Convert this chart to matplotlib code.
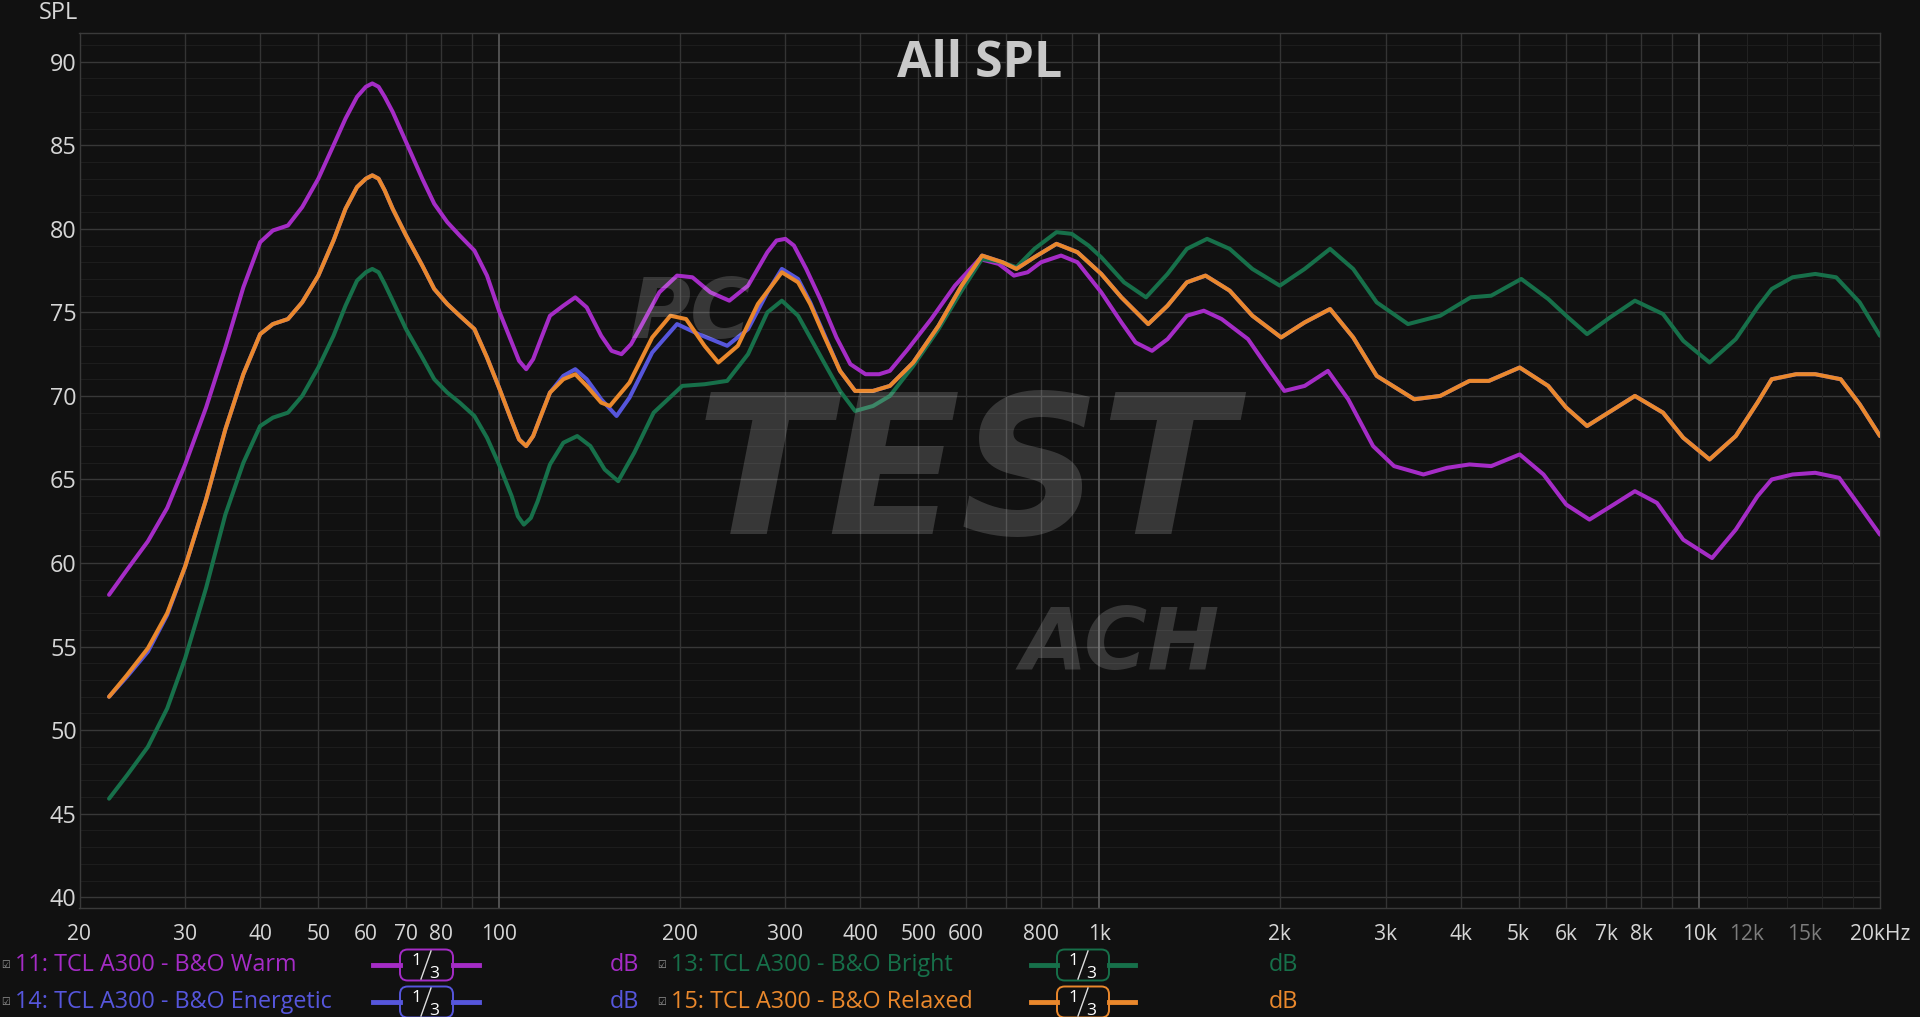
import matplotlib
matplotlib.use('Agg')
import matplotlib.pyplot as plt
from matplotlib import font_manager
from matplotlib.patches import FancyBboxPatch
from matplotlib.lines import Line2D
from matplotlib.ticker import NullLocator

# ---- data ----
warm_freq = [22.4, 24, 26, 28, 30, 32.5, 35, 37.5, 40, 42, 44.5, 47, 50, 53, 55.5, 58, 60, 61.5, 63,
             64.5, 66.5, 70, 74.5, 78, 82, 86, 91, 95.5, 100, 105, 108, 111, 114, 118, 121.6, 128,
             134, 140, 148, 154, 160, 166, 172, 185, 198, 210, 225, 242, 260, 280, 290, 300, 310,
             325, 343, 365, 385, 408, 430, 448, 480, 525, 575, 632, 680, 721, 760, 800, 864, 920,
             1008, 1089, 1150, 1225, 1300, 1400, 1494, 1600, 1770, 1900, 2035, 2200, 2405, 2600,
             2860, 3100, 3470, 3800, 4140, 4500, 5020, 5500, 6000, 6560, 7200, 7810, 8500, 9400,
             10500, 11500, 12500, 13200, 14300, 15600, 17100, 18500, 20000]
warm_db = [58.1, 59.6, 61.3, 63.3, 65.9, 69.3, 72.9, 76.5, 79.2, 79.9, 80.2, 81.3, 83.0, 85.0, 86.6,
           87.9, 88.5, 88.7, 88.5, 87.9, 87.0, 85.2, 83.0, 81.5, 80.4, 79.6, 78.7, 77.2, 75.1, 73.2,
           72.1, 71.6, 72.2, 73.6, 74.8, 75.4, 75.9, 75.3, 73.6, 72.7, 72.5, 73.1, 74.1, 76.2, 77.2,
           77.1, 76.2, 75.7, 76.6, 78.6, 79.3, 79.4, 79.0, 77.6, 75.8, 73.5, 71.9, 71.3, 71.3, 71.5,
           72.8, 74.6, 76.6, 78.2, 77.9, 77.2, 77.4, 78.0, 78.4, 78.0, 76.2, 74.4, 73.2, 72.7, 73.4,
           74.8, 75.1, 74.6, 73.4, 71.8, 70.3, 70.6, 71.5, 69.8, 67.0, 65.8, 65.3, 65.7, 65.9, 65.8,
           66.5, 65.3, 63.5, 62.6, 63.5, 64.3, 63.6, 61.4, 60.3, 62.0, 64.0, 65.0, 65.3, 65.4, 65.1,
           63.4, 61.7]

relaxed_freq = [22.4, 24, 26, 28, 30, 32.5, 35, 37.5, 40, 42, 44.5, 47, 50, 53, 55.5, 58, 60, 61.5,
                63, 64.5, 66.5, 70, 74.5, 78, 82, 86, 91, 95.5, 100, 105, 108, 111, 114, 118, 121.6,
                128, 134, 140, 148, 153, 165, 180, 193, 205, 220, 232, 250, 270, 296, 315, 330, 348,
                370, 392, 420, 448, 490, 540, 590, 638, 690, 728, 780, 849, 920, 1008, 1089, 1207,
                1300, 1400, 1504, 1650, 1800, 2010, 2200, 2425, 2650, 2900, 3350, 3700, 4140, 4460,
                5020, 5600, 6000, 6500, 7200, 7810, 8700, 9400, 10400, 11500, 12500, 13200, 14500,
                15600, 17200, 18500, 20000]
relaxed_db = [52.0, 53.3, 54.9, 57.0, 59.8, 63.8, 68.0, 71.3, 73.7, 74.3, 74.6, 75.6, 77.2, 79.3, 81.2,
              82.5, 83.0, 83.2, 83.0, 82.3, 81.2, 79.6, 77.8, 76.4, 75.5, 74.8, 74.0, 72.3, 70.5, 68.5,
              67.4, 67.0, 67.6, 69.0, 70.2, 71.0, 71.3, 70.6, 69.6, 69.4, 70.8, 73.5, 74.8, 74.6, 73.0,
              72.0, 73.0, 75.5, 77.4, 76.8, 75.5, 73.6, 71.5, 70.3, 70.3, 70.6, 72.0, 74.2, 76.6, 78.4,
              78.0, 77.6, 78.3, 79.1, 78.6, 77.3, 75.9, 74.3, 75.4, 76.8, 77.2, 76.3, 74.8, 73.5, 74.4,
              75.2, 73.5, 71.2, 69.8, 70.0, 70.9, 70.9, 71.7, 70.6, 69.3, 68.2, 69.2, 70.0, 69.0, 67.5,
              66.2, 67.6, 69.6, 71.0, 71.3, 71.3, 71.0, 69.5, 67.6]

energetic_freq = [22.4, 24, 26, 28, 30, 32.5, 35, 37.5, 40, 42, 44.5, 47, 50, 53, 55.5, 58, 60, 61.5,
                  63, 64.5, 66.5, 70, 74.5, 78, 82, 86, 91, 95.5, 100, 105, 108, 111, 114, 118, 121.6,
                  128, 134, 140, 148, 157, 165, 180, 198, 215, 240, 260, 280, 296, 315, 330, 348,
                  370, 392, 420, 448, 490, 540, 590, 638, 690, 728, 780, 849, 920, 1008, 1089, 1207,
                  1300, 1400, 1504, 1650, 1800, 2010, 2200, 2425, 2650, 2900, 3350, 3700, 4140, 4460,
                  5020, 5600, 6000, 6500, 7200, 7810, 8700, 9400, 10400, 11500, 12500, 13200, 14500,
                  15600, 17200, 18500, 20000]
energetic_db = [52.0, 53.2, 54.7, 56.9, 59.8, 63.8, 68.0, 71.3, 73.7, 74.3, 74.6, 75.6, 77.2, 79.3, 81.2,
                82.5, 83.0, 83.2, 83.0, 82.3, 81.2, 79.6, 77.8, 76.4, 75.5, 74.8, 74.0, 72.3, 70.5, 68.5,
                67.4, 67.0, 67.6, 69.0, 70.2, 71.2, 71.6, 71.0, 69.8, 68.8, 69.9, 72.6, 74.3, 73.7, 73.0,
                74.0, 76.2, 77.6, 77.0, 75.6, 73.7, 71.5, 70.3, 70.3, 70.6, 72.0, 74.2, 76.6, 78.4,
                78.0, 77.6, 78.3, 79.1, 78.6, 77.3, 75.9, 74.3, 75.4, 76.8, 77.2, 76.3, 74.8, 73.5, 74.4,
                75.2, 73.5, 71.2, 69.8, 70.0, 70.9, 70.9, 71.7, 70.6, 69.3, 68.2, 69.2, 70.0, 69.0, 67.5,
                66.2, 67.6, 69.6, 71.0, 71.3, 71.3, 71.0, 69.5, 67.6]

bright_freq = [22.4, 24, 26, 28, 30, 32.5, 35, 37.5, 40, 42, 44.5, 47, 50, 53, 55.5, 58, 60, 61.5, 63,
               64.5, 66.5, 70, 74.5, 78, 82, 86, 91, 95.5, 100, 105, 107.5, 110, 113, 116, 121.6, 128,
               135, 142, 150, 158, 168, 181, 202, 220, 240, 260, 280, 296, 315, 330, 348, 370, 392,
               420, 448, 490, 540, 590, 638, 690, 728, 780, 849, 900, 960, 1008, 1100, 1197, 1300,
               1400, 1513, 1650, 1800, 2000, 2200, 2425, 2650, 2900, 3270, 3700, 4160, 4500, 5050,
               5600, 6000, 6500, 7100, 7810, 8700, 9400, 10400, 11500, 12500, 13200, 14300, 15600,
               16900, 18500, 20000]
bright_db = [45.9, 47.3, 49.0, 51.3, 54.3, 58.5, 62.9, 66.0, 68.2, 68.7, 69.0, 70.0, 71.7, 73.6, 75.4,
             76.9, 77.4, 77.6, 77.4, 76.7, 75.7, 74.0, 72.3, 71.0, 70.2, 69.6, 68.8, 67.5, 65.9, 64.0,
             62.8, 62.3, 62.7, 63.7, 65.9, 67.2, 67.6, 67.0, 65.6, 64.9, 66.6, 69.0, 70.6, 70.7, 70.9,
             72.5, 75.0, 75.7, 74.8, 73.5, 72.0, 70.3, 69.1, 69.4, 70.0, 71.8, 74.0, 76.3, 78.2, 78.0,
             77.7, 78.8, 79.8, 79.7, 79.0, 78.3, 76.8, 75.9, 77.3, 78.8, 79.4, 78.8, 77.6, 76.6, 77.6,
             78.8, 77.6, 75.6, 74.3, 74.8, 75.9, 76.0, 77.0, 75.8, 74.8, 73.7, 74.7, 75.7, 74.9, 73.3,
             72.0, 73.4, 75.3, 76.4, 77.1, 77.3, 77.1, 75.6, 73.6]

series_names = ['11: TCL A300 - B&O Warm', '14: TCL A300 - B&O Energetic',
                '13: TCL A300 - B&O Bright', '15: TCL A300 - B&O Relaxed']

x_ticks = [20, 30, 40, 50, 60, 70, 80, 100, 200, 300, 400, 500, 600, 800, 1000, 2000, 3000, 4000,
           5000, 6000, 7000, 8000, 10000, 12000, 15000, 20000]
x_labels = ['20', '30', '40', '50', '60', '70', '80', '100', '200', '300', '400', '500', '600', '800',
            '1k', '2k', '3k', '4k', '5k', '6k', '7k', '8k', '10k', '12k', '15k', '20kHz']
y_ticks = [40, 45, 50, 55, 60, 65, 70, 75, 80, 85, 90]

# ---- style ----
BG = '#111111'
C_WARM = '#a52cc6'
C_ENER = '#5656dc'
C_BRIGHT = '#17704a'
C_RELAX = '#ea882c'
TXT = '#d6d6d6'

installed = {f.name for f in font_manager.fontManager.ttflist}
narrow = 'Liberation Sans Narrow' in installed
ui_font = 'Liberation Sans Narrow' if narrow else 'Open Sans'
k = 1.0 if narrow else 0.84
plt.rcParams['font.family'] = [ui_font, 'DejaVu Sans']

W, H = 1920, 1017
fig = plt.figure(figsize=(W / 100, H / 100), dpi=100, facecolor=BG)


def fx(px):
    return px / W


def fy(py):
    return 1 - py / H


ax = fig.add_axes([fx(79.5), fy(908.3), (1880 - 79.5) / W, (908.3 - 33.3) / H])
ax.set_facecolor(BG)
ax.set_xscale('log')
ax.set_xlim(20, 20000)
ax.set_ylim(39.34, 91.7)

# grid
for v in range(40, 92):
    if v % 5:
        ax.axhline(v, color='#1d1d1d', lw=0.8, zorder=0)
for v in y_ticks:
    ax.axhline(v, color='#383838', lw=1.0, zorder=0)
for dec in (10, 100, 1000):
    for m in range(2, 10):
        f = dec * m
        if 20 <= f <= 20000:
            ax.axvline(f, color='#343434', lw=1.0, zorder=0)
for f in (12000, 14000, 16000, 18000):
    ax.axvline(f, color='#222222', lw=0.8, zorder=0)
for f in (100, 1000, 10000):
    ax.axvline(f, color='#5c5c5c', lw=1.2, zorder=0)

for s in ax.spines.values():
    s.set_color('#3a3a3a')
    s.set_linewidth(1.0)

ax.set_xticks(x_ticks)
ax.set_xticklabels(x_labels)
ax.xaxis.set_minor_locator(NullLocator())
ax.set_yticks(y_ticks)
ax.set_yticklabels([str(v) for v in y_ticks])
ax.yaxis.set_minor_locator(NullLocator())
ax.tick_params(axis='x', length=0, pad=11, labelsize=18 * k, colors=TXT)
ax.tick_params(axis='y', length=0, pad=2, labelsize=20 * k, colors=TXT)
for lab in ax.get_xticklabels():
    if lab.get_text() in ('12k', '15k'):
        lab.set_color('#7c7c7c')

# curves
ax.plot(warm_freq, warm_db, color=C_WARM, lw=2.9, zorder=3, solid_capstyle='round', solid_joinstyle='round')
ax.plot(bright_freq, bright_db, color=C_BRIGHT, lw=2.9, zorder=4, solid_capstyle='round', solid_joinstyle='round')
ax.plot(energetic_freq, energetic_db, color=C_ENER, lw=2.9, zorder=5, solid_capstyle='round', solid_joinstyle='round')
ax.plot(relaxed_freq, relaxed_db, color=C_RELAX, lw=2.9, zorder=6, solid_capstyle='round', solid_joinstyle='round')

# watermark
wm = dict(color='white', alpha=0.16, fontweight='heavy', style='italic', ha='center', va='center',
          family=['DejaVu Sans'], zorder=8)
fig.text(fx(690), fy(314), 'PC', fontsize=60, **wm)
fig.text(fx(965), fy(480), 'TEST', fontsize=140, **wm)
fig.text(fx(1120), fy(646), 'ACH', fontsize=62, **wm)

# title and axis name
fig.text(fx(980), fy(64), 'All SPL', fontsize=36, fontweight='bold', color='#c8c8c8',
         ha='center', va='center', family=['Open Sans', 'DejaVu Sans'])
fig.text(fx(78), fy(13), 'SPL', fontsize=17, color=TXT, ha='right', va='center')

# legend rows
cols = [dict(check=6, text=15, l0=373, b0=400, b1=453, l1=479, db=624),
        dict(check=662, text=671, l0=1031, b0=1057, b1=1109, l1=1135, db=1283)]
entries = [(0, 965, series_names[0], C_WARM), (0, 1002, series_names[1], C_ENER),
           (1, 965, series_names[2], C_BRIGHT), (1, 1002, series_names[3], C_RELAX)]
for ci, yc, name, col in entries:
    c = cols[ci]
    fig.text(fx(c['check']), fy(yc), '☑', fontsize=7, color='#9a9a9a', ha='center', va='center')
    fig.text(fx(c['text']), fy(yc), name, fontsize=20 * k, color=col, ha='left', va='center')
    fig.add_artist(Line2D([fx(c['l0']), fx(c['b0'])], [fy(yc), fy(yc)], color=col, lw=3.5,
                          transform=fig.transFigure))
    fig.add_artist(Line2D([fx(c['b1']), fx(c['l1'])], [fy(yc), fy(yc)], color=col, lw=3.5,
                          transform=fig.transFigure))
    bw = (c['b1'] - c['b0']) / W
    bh = 31 / H
    fig.add_artist(FancyBboxPatch((fx(c['b0']), fy(yc) - bh / 2), bw, bh,
                                  boxstyle='round,pad=0,rounding_size=0.004', mutation_aspect=W / H,
                                  transform=fig.transFigure, facecolor=BG, edgecolor=col, lw=1.4))
    bx = c['b0']
    fig.text(fx(bx + 16), fy(yc - 4), '1', fontsize=15 * k, color='white', ha='center', va='center')
    fig.text(fx(bx + 34), fy(yc + 9), '3', fontsize=15 * k, color='white', ha='center', va='center')
    fig.add_artist(Line2D([fx(bx + 21), fx(bx + 31)], [fy(yc + 14), fy(yc - 14)], color='#dddddd',
                          lw=1.0, transform=fig.transFigure))
    fig.text(fx(c['db']), fy(yc), 'dB', fontsize=20 * k, color=col, ha='center', va='center')

fig.savefig('out.png', dpi=100, facecolor=BG)
